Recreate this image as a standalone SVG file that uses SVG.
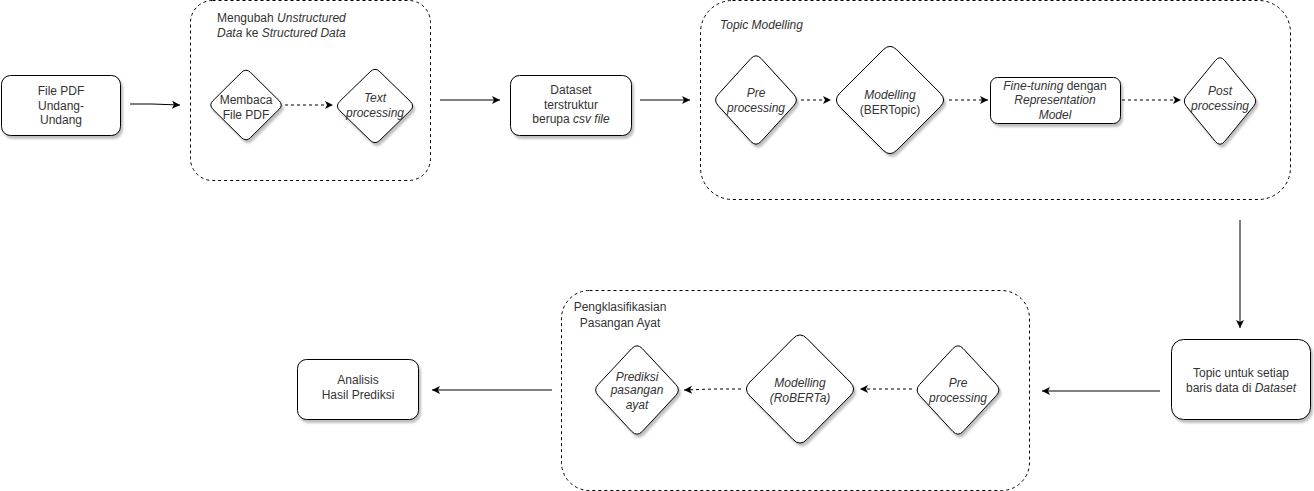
<svg xmlns="http://www.w3.org/2000/svg" width="1314" height="491" viewBox="0 0 1314 491">
<style>
text{font-family:"Liberation Sans",Arial,sans-serif;font-size:12px;fill:#333}
.c{text-anchor:middle}
.i{font-style:italic}
.node{fill:#fff;stroke:#000;stroke-width:1;filter:url(#sh)}
.grp{fill:none;stroke:#000;stroke-width:1;stroke-dasharray:3,3}
.ln{fill:none;stroke:#000;stroke-width:1;marker-end:url(#ah)}
.dl{fill:none;stroke:#000;stroke-width:1;stroke-dasharray:3,3;marker-end:url(#ah)}
</style>
<defs>
<filter id="sh" x="-20%" y="-20%" width="150%" height="150%">
<feDropShadow dx="2" dy="3" stdDeviation="1.2" flood-color="#000" flood-opacity="0.25"/>
</filter>
<marker id="ah" markerWidth="10" markerHeight="10" refX="8" refY="4" orient="auto" markerUnits="userSpaceOnUse">
<path d="M0,0 L8,4 L0,8 L2,4 Z" fill="#000"/>
</marker>
</defs>
<rect width="1314" height="491" fill="#fff"/>

<g id="group-structured">
<rect class="grp" x="190.5" y="0.5" width="240" height="180" rx="22"/>
<text x="217" y="22">Mengubah <tspan class="i">Unstructured</tspan></text>
<text x="217" y="37"><tspan class="i">Data</tspan> ke <tspan class="i">Structured Data</tspan></text>
</g>
<g id="group-topic">
<rect class="grp" x="700.5" y="0.5" width="590" height="199" rx="32"/>
<text x="720" y="29" class="i">Topic Modelling</text>
</g>
<g id="group-klasifikasi">
<rect class="grp" x="561.5" y="290.5" width="468" height="200" rx="28"/>
<text x="620" y="311" class="c">Pengklasifikasian</text>
<text x="620" y="327" class="c">Pasangan Ayat</text>
</g>

<g id="connectors">
<path class="ln" d="M130,104 L152,104 L180,105"/>
<path class="dl" d="M285,105 L333,105"/>
<path class="ln" d="M440,100 L500,100"/>
<path class="ln" d="M640,100 L690,100"/>
<path class="dl" d="M801,100 L831,100"/>
<path class="dl" d="M949,100 L988,100"/>
<path class="dl" d="M1122,100 L1181,100"/>
<path class="ln" d="M1240,220 L1240,328"/>
<path class="ln" d="M1160,391 L1042,391"/>
<path class="dl" d="M912,389 L860,389"/>
<path class="dl" d="M741,389 L715,389 L684,390"/>
<path class="ln" d="M552,390 L432,390"/>
</g>

<g id="file-pdf">
<rect class="node" x="1.5" y="75.5" width="119" height="60" rx="9"/>
<text x="61" y="95" class="c">File PDF</text>
<text x="61" y="110" class="c">Undang-</text>
<text x="61" y="124" class="c">Undang</text>
</g>
<g id="membaca">
<path class="node" d="M241.5,72.4 Q246,68 250.5,72.4 L279,100.6 Q283.5,105 279,109.4 L250.5,137.6 Q246,142 241.5,137.6 L213,109.4 Q208.5,105 213,100.6 Z"/>
<text x="246" y="104" class="c">Membaca</text>
<text x="246" y="119" class="c">File PDF</text>
</g>
<g id="text-processing">
<path class="node" d="M370.2,71.7 Q375,67 379.8,71.7 L410.2,101.3 Q415,106 410.2,110.7 L379.8,140.3 Q375,145 370.2,140.3 L339.8,110.7 Q335,106 339.8,101.3 Z"/>
<text x="375" y="102" class="c i">Text</text>
<text x="375" y="117" class="c i">processing</text>
</g>
<g id="dataset">
<rect class="node" x="510.5" y="75.5" width="121" height="60" rx="9"/>
<text x="571" y="94" class="c">Dataset</text>
<text x="571" y="109" class="c">terstruktur</text>
<text x="571" y="123" class="c">berupa <tspan class="i">csv file</tspan></text>
</g>
<g id="pre-processing-1">
<path class="node" d="M750.8,58.6 Q756,53 761.2,58.6 L793.8,94.4 Q799,100 793.8,105.6 L761.2,141.4 Q756,147 750.8,141.4 L718.2,105.6 Q713,100 718.2,94.4 Z"/>
<text x="756" y="97" class="c i">Pre</text>
<text x="756" y="112" class="c i">processing</text>
</g>
<g id="bertopic">
<path class="node" d="M883.2,49.8 Q890,43 896.8,49.8 L940.2,93.2 Q947,100 940.2,106.8 L896.8,150.2 Q890,157 883.2,150.2 L839.8,106.8 Q833,100 839.8,93.2 Z"/>
<text x="890" y="99" class="c i">Modelling</text>
<text x="890" y="114" class="c">(BERTopic)</text>
</g>
<g id="fine-tuning">
<rect class="node" x="990.5" y="77.5" width="130" height="46" rx="7"/>
<text x="1055" y="90" class="c"><tspan class="i">Fine-tuning</tspan> dengan</text>
<text x="1055" y="104" class="c i">Representation</text>
<text x="1055" y="119" class="c i">Model</text>
</g>
<g id="post-processing">
<path class="node" d="M1215.4,60.5 Q1220,55 1224.6,60.5 L1253.4,95.5 Q1258,101 1253.4,106.5 L1224.6,141.5 Q1220,147 1215.4,141.5 L1186.6,106.5 Q1182,101 1186.6,95.5 Z"/>
<text x="1220" y="95" class="c i">Post</text>
<text x="1220" y="110" class="c i">processing</text>
</g>
<g id="topic-per-row">
<rect class="node" x="1171.5" y="339.5" width="139" height="80" rx="12"/>
<text x="1241" y="377" class="c">Topic untuk setiap</text>
<text x="1241" y="392" class="c">baris data di <tspan class="i">Dataset</tspan></text>
</g>
<g id="pre-processing-2">
<path class="node" d="M952.8,348.6 Q958,343 963.2,348.6 L996.3,384.4 Q1001.5,390 996.3,395.6 L963.2,431.4 Q958,437 952.8,431.4 L919.7,395.6 Q914.5,390 919.7,384.4 Z"/>
<text x="958" y="387" class="c i">Pre</text>
<text x="958" y="402" class="c i">processing</text>
</g>
<g id="roberta">
<path class="node" d="M793.2,338.4 Q800,331.5 806.8,338.4 L850.2,382.1 Q857,389 850.2,395.9 L806.8,439.6 Q800,446.5 793.2,439.6 L749.8,395.9 Q743,389 749.8,382.1 Z"/>
<text x="800" y="387" class="c i">Modelling</text>
<text x="800" y="402" class="c i">(RoBERTa)</text>
</g>
<g id="prediksi">
<path class="node" d="M631.7,348.6 Q637,343 642.3,348.6 L675.7,384.4 Q681,390 675.7,395.6 L642.3,431.4 Q637,437 631.7,431.4 L598.3,395.6 Q593,390 598.3,384.4 Z"/>
<text x="637" y="381" class="c i">Prediksi</text>
<text x="637" y="394" class="c i">pasangan</text>
<text x="637" y="409" class="c i">ayat</text>
</g>
<g id="analisis">
<rect class="node" x="297.5" y="359.5" width="121" height="60" rx="9"/>
<text x="358" y="384" class="c">Analisis</text>
<text x="358" y="399" class="c">Hasil Prediksi</text>
</g>
</svg>
